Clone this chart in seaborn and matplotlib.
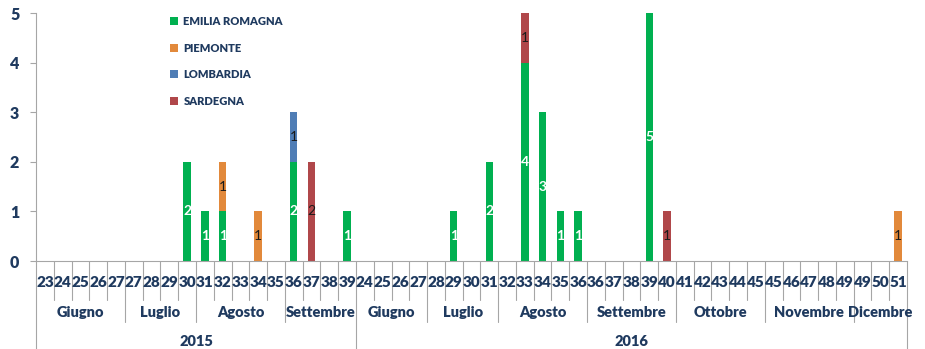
import pandas as pd
import seaborn as sns
import matplotlib.pyplot as plt
from matplotlib.patches import Patch

# ---------------------------------------------
# Data (one slot per week column of the original table)
# ---------------------------------------------
weeks = [23, 24, 25, 26, 27, 27, 28, 29, 30, 31, 32, 33, 34, 35, 36, 37, 38, 39,
         24, 25, 26, 27, 28, 29, 30, 31, 32, 33, 34, 35, 36, 36, 37, 38, 39, 40,
         41, 42, 43, 44, 45, 45, 46, 47, 48, 49, 49, 50, 51]

emilia   = [0, 0, 0, 0, 0, 0, 0, 0, 2, 1, 1, 0, 0, 0, 2, 0, 0, 1,
            0, 0, 0, 0, 0, 1, 0, 2, 0, 4, 3, 1, 1, 0, 0, 0, 5, 0,
            0, 0, 0, 0, 0, 0, 0, 0, 0, 0, 0, 0, 0]
piemonte = [0, 0, 0, 0, 0, 0, 0, 0, 0, 0, 1, 0, 1, 0, 0, 0, 0, 0,
            0, 0, 0, 0, 0, 0, 0, 0, 0, 0, 0, 0, 0, 0, 0, 0, 0, 0,
            0, 0, 0, 0, 0, 0, 0, 0, 0, 0, 0, 0, 1]
lombardia = [0, 0, 0, 0, 0, 0, 0, 0, 0, 0, 0, 0, 0, 0, 1, 0, 0, 0,
             0, 0, 0, 0, 0, 0, 0, 0, 0, 0, 0, 0, 0, 0, 0, 0, 0, 0,
             0, 0, 0, 0, 0, 0, 0, 0, 0, 0, 0, 0, 0]
sardegna = [0, 0, 0, 0, 0, 0, 0, 0, 0, 0, 0, 0, 0, 0, 0, 2, 0, 0,
            0, 0, 0, 0, 0, 0, 0, 0, 0, 1, 0, 0, 0, 0, 0, 0, 0, 1,
            0, 0, 0, 0, 0, 0, 0, 0, 0, 0, 0, 0, 0]

months = ["Giugno", "Luglio", "Agosto", "Settembre",
          "Giugno", "Luglio", "Agosto", "Settembre", "Ottobre", "Novembre", "Dicembre"]
month_spans = [5, 4, 5, 4, 4, 4, 5, 5, 5, 5, 3]
years = ["2015", "2016"]
year_spans = [18, 31]

regions = ["EMILIA ROMAGNA", "PIEMONTE", "LOMBARDIA", "SARDEGNA"]
colors = ["#00B050", "#E2893B", "#4F7DB5", "#B0474A"]
label_colors = ["white", "#1a1a1a", "#1a1a1a", "#1a1a1a"]

navy = "#1F3A5F"
grid_gray = "#A6A6A6"

# ---------------------------------------------
# Build a table with cumulative tops for stacking
# ---------------------------------------------
n = len(weeks)
df = pd.DataFrame({"slot": range(n), "EMILIA ROMAGNA": emilia, "PIEMONTE": piemonte,
                   "LOMBARDIA": lombardia, "SARDEGNA": sardegna})
cum = df[regions].cumsum(axis=1)

sns.set_style("white")
plt.rcParams['font.family'] = ['Lato', 'DejaVu Sans']

fig = plt.figure(figsize=(9.25, 3.49), dpi=100)
ax = fig.add_axes([36 / 925, 1 - 261 / 349, (907 - 36) / 925, (261 - 13) / 349])

# draw from the top of the stack down so lower series cover upper ones
for region, color in reversed(list(zip(regions, colors))):
    sns.barplot(x=df["slot"], y=cum[region], color=color, width=0.42,
                order=list(range(n)), ax=ax, saturation=1, linewidth=0)

# data labels in the middle of each segment
for i in range(n):
    base = 0
    for region, lc in zip(regions, label_colors):
        v = df.loc[i, region]
        if v > 0:
            bold = "bold" if lc == "white" else "normal"
            ax.text(i, base + v / 2, str(v), ha="center", va="center",
                    color=lc, fontsize=10, fontweight=bold)
        base += v

ax.set_xlim(-0.5, n - 0.5)
ax.set_ylim(0, 5)
ax.set_yticks(range(6))
ax.set_yticklabels([str(t) for t in range(6)], fontsize=11.5, fontweight="heavy", color=navy)
ax.tick_params(axis="y", length=4, color=grid_gray, left=True, pad=8)
ax.set_xticks([])
ax.set_xlabel("")
ax.set_ylabel("")
for side in ["top", "right"]:
    ax.spines[side].set_visible(False)
for side in ["left", "bottom"]:
    ax.spines[side].set_color(grid_gray)
    ax.spines[side].set_linewidth(0.8)

# ---------------------------------------------
# Multi-level category axis (weeks / months / years)
# ---------------------------------------------
tr = ax.get_xaxis_transform()
week_bottom, month_bottom, year_bottom = -0.157, -0.246, -0.36

month_edges = [0]
for s in month_spans:
    month_edges.append(month_edges[-1] + s)
year_edges = [0]
for s in year_spans:
    year_edges.append(year_edges[-1] + s)

for b in range(n + 1):
    if b in year_edges:
        y0 = year_bottom
    elif b in month_edges:
        y0 = month_bottom
    else:
        y0 = week_bottom
    ax.plot([b - 0.5, b - 0.5], [0, y0], transform=tr, color=grid_gray,
            lw=0.8, clip_on=False)

for i, w in enumerate(weeks):
    ax.text(i, -0.085, str(w), transform=tr, ha="center", va="center",
            fontsize=11, fontweight="heavy", color=navy)

for name, a, b in zip(months, month_edges[:-1], month_edges[1:]):
    ax.text((a + b) / 2 - 0.5, -0.206, name, transform=tr, ha="center", va="center",
            fontsize=10.5, fontweight="heavy", color=navy)

for name, a, b in zip(years, year_edges[:-1], year_edges[1:]):
    ax.text((a + b) / 2 - 0.5, -0.325, name, transform=tr, ha="center", va="center",
            fontsize=10.5, fontweight="heavy", color=navy)

# ---------------------------------------------
# Legend
# ---------------------------------------------
handles = [Patch(facecolor=c, edgecolor="none", label=r) for r, c in zip(regions, colors)]
leg = fig.legend(handles=handles, loc="upper left", bbox_to_anchor=(160 / 925, 1 - 6 / 349),
                 frameon=False, prop={"weight": "heavy", "size": 8}, labelspacing=1.4,
                 handlelength=0.7, handleheight=0.7, handletextpad=0.5)
for t in leg.get_texts():
    t.set_color(navy)

fig.savefig("out.png", dpi=100)
